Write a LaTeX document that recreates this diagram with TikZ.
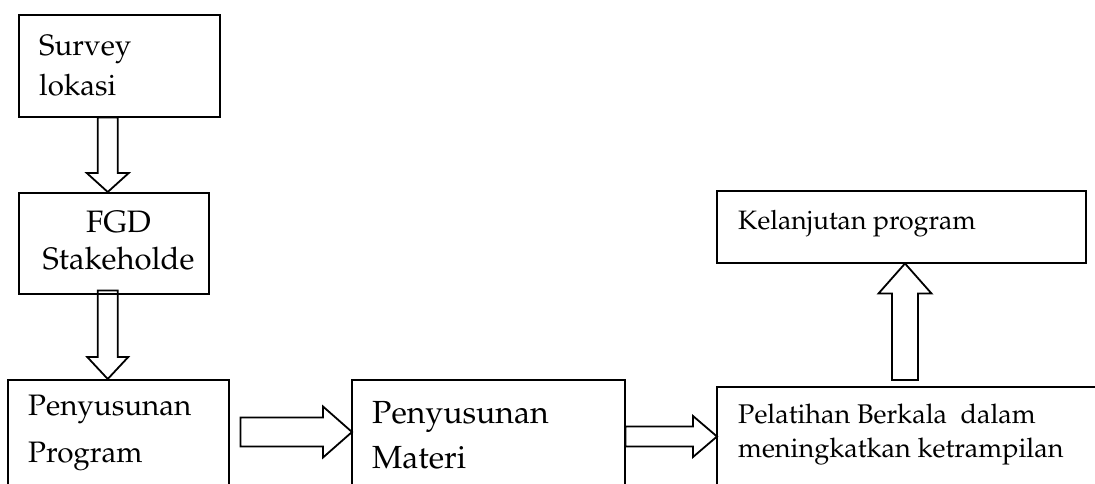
\documentclass[tikz,border=0pt]{standalone}
\usepackage[T1]{fontenc}
\usepackage{mathpazo}
\usetikzlibrary{calc}
\def\fatarrow(#1)(#2)(#3:#4:#5){\draw[fat] let \p1=(#1), \p2=(#2), \n1={atan2(\y2-\y1,\x2-\x1)}, \n2={veclen(\x2-\x1,\y2-\y1)} in [shift={(\p1)}, rotate=\n1] (0,-#3) -- ({\n2-#5},-#3) -- ({\n2-#5},-#4) -- (\n2,0) -- ({\n2-#5},#4) -- ({\n2-#5},#3) -- (0,#3) -- cycle;}

\tikzset{
	box/.style={draw, line width=1.5pt, inner sep=0pt, anchor=north west},
	txt/.style={inner sep=0pt, anchor=base west, align=left},
	fat/.style={line width=1.8pt, line join=miter}
}

\begin{document}
\begin{tikzpicture}[x=1pt, y=-1pt]
		%%%%% START %%%%%
		\useasboundingbox (0,0) rectangle (1095,483);
		
		\node[box, minimum width=201pt, minimum height=102pt] (survey) at (18,14) {};
		\node[txt, font=\fontsize{29.5}{40}\selectfont] (surveytext) at (39,95) {Survey\\lokasi};
		
		\node[box, minimum width=190pt, minimum height=101pt] (fgd) at (18,192) {};
		\node[txt, anchor=base, align=center, font=\fontsize{31}{37}\selectfont] (fgdtext) at (118.5,269) {FGD\\Stakeholde};
		
		\node[box, minimum width=221pt, minimum height=160pt] (program) at (7,379) {};
		\node[txt, font=\fontsize{29.6}{47}\selectfont] (programtext) at (28,462) {Penyusunan\\Program};
		
		\node[box, minimum width=273pt, minimum height=160pt] (materi) at (351,379) {};
		\node[txt, font=\fontsize{32}{45}\selectfont] (materitext) at (372,468) {Penyusunan\\Materi};
		
		\node[box, minimum width=420pt, minimum height=160pt] (pelatihan) at (716,386) {};
		\node[txt, font=\fontsize{27}{34}\selectfont] (pelatihantext) at (738,457) {Pelatihan Berkala~~dalam\\meningkatkan ketrampilan};
		
		\node[box, minimum width=369pt, minimum height=72pt] (lanjut) at (716,190) {};
		\node[txt, font=\fontsize{26.6}{32}\selectfont] (lanjuttext) at (738,229) {Kelanjutan program};
		
		\fatarrow([xshift=-11.5pt]survey.south)([xshift=-6pt]fgd.south |- fgd.north)(10:21:19);
		\fatarrow([xshift=-6pt, yshift=4pt]fgd.south)([xshift=-10.5pt]program.north)(10:20.5:22);
		\fatarrow($(program.north east)+(11,53)$)($(materi.north west)+(1,53)$)(14.5:25.5:29);
		\fatarrow($(materi.north east)+(0,57.5)$)($(pelatihan.north west)+(1,50.5)$)(10:20.5:24);
		\fatarrow($(pelatihan.north west)+(189,-6)$)($(lanjut.south west)+(189,0)$)(13:26.5:30);
		
		%%%%% END %%%%%
	\end{tikzpicture}
\end{document}
